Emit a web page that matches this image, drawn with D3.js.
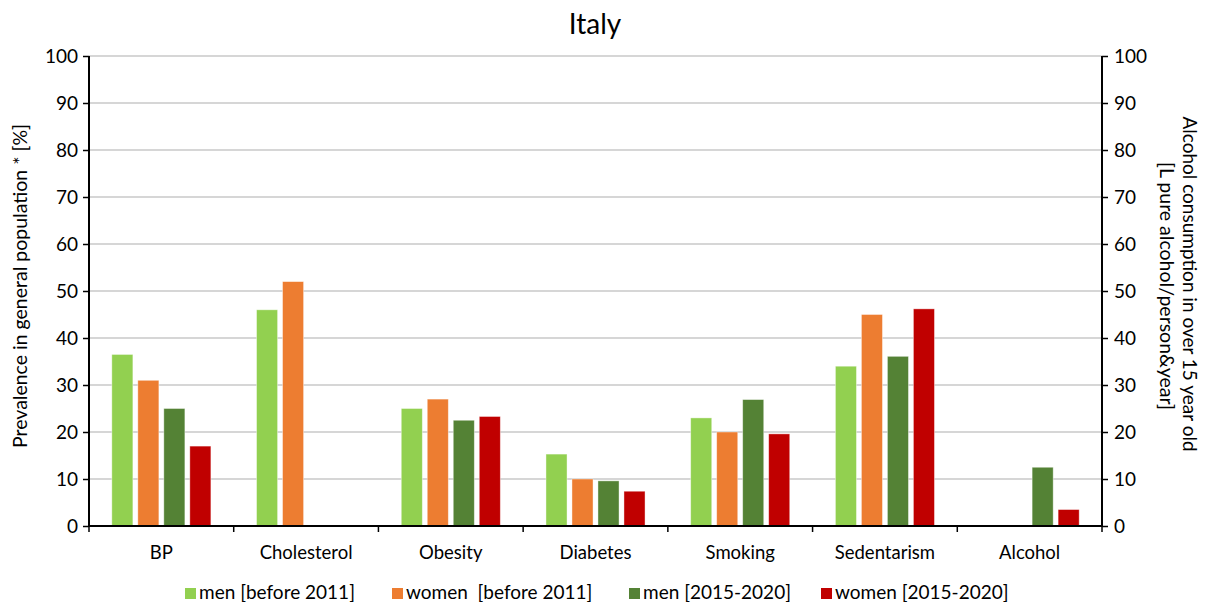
<!DOCTYPE html>
<html><head><meta charset="utf-8">
<script src="https://cdn.jsdelivr.net/npm/d3@7"></script>
<style>
body{margin:0;background:#fff;}
text{font-family:Lato,"Open Sans",sans-serif;fill:#000;}
</style></head>
<body><svg id="c" width="1206" height="602"></svg>
<script>
const categories = ["BP","Cholesterol","Obesity","Diabetes","Smoking","Sedentarism","Alcohol"];
const seriesNames = ["men [before 2011]","women  [before 2011]","men [2015-2020]","women [2015-2020]"];
const menBefore2011   = [36.5, 46, 25, 15.3, 23, 34, null];
const womenBefore2011 = [31, 52, 27, 10, 20, 45, null];
const men2015_2020    = [25, null, 22.5, 9.6, 26.9, 36.1, 12.5];
const women2015_2020  = [17, null, 23.3, 7.4, 19.6, 46.2, 3.5];
const yTicks = [0,10,20,30,40,50,60,70,80,90,100];
const colors = ["#92d050","#ed7d31","#548235","#c00000"];
const seriesValues = [menBefore2011, womenBefore2011, men2015_2020, women2015_2020];

const svg = d3.select("#c");
const L = 89, R = 1102, T = 56, B = 526;
const x0 = d3.scaleBand().domain(categories).range([L, R]).paddingInner(0).paddingOuter(0);
const groupW = 104;
const x1 = d3.scaleBand().domain(d3.range(4)).range([0, groupW]).paddingInner(0.19).paddingOuter(0.095);
const y = d3.scaleLinear().domain([0,100]).range([B, T]);

// gridlines
svg.append("g").selectAll("line").data(yTicks.filter(d=>d>0)).join("line")
  .attr("x1", L).attr("x2", R).attr("y1", d=>y(d)).attr("y2", d=>y(d))
  .attr("stroke", "#c8c8c8").attr("stroke-width", 1.5);

// bars
const g = svg.append("g");
categories.forEach((c, ci) => {
  const cx = x0(c) + (x0.bandwidth() - groupW) / 2;
  seriesValues.forEach((vals, si) => {
    const v = vals[ci];
    if (v == null) return;
    g.append("rect")
      .attr("x", cx + x1(si)).attr("width", x1.bandwidth())
      .attr("y", y(v)).attr("height", y(0) - y(v))
      .attr("fill", colors[si]).attr("stroke", "#ffffff").attr("stroke-opacity", 0.5).attr("stroke-width", 0.8);
  });
});

// left axis
const yl = svg.append("g").attr("transform", `translate(${L},0)`)
  .call(d3.axisLeft(y).tickValues(yTicks).tickSize(6).tickPadding(5));
// right axis
const yr = svg.append("g").attr("transform", `translate(${R},0)`)
  .call(d3.axisRight(y).tickValues(yTicks).tickSize(6).tickPadding(6));
[yl, yr].forEach(a => {
  a.select(".domain").attr("stroke", "#000").attr("stroke-width", 2);
  a.selectAll(".tick line").attr("stroke", "#000").attr("stroke-width", 1.5);
  a.selectAll(".tick text").attr("font-size", 19).attr("font-family", "Lato,sans-serif").attr("fill", "#333");
});
yl.select(".domain").attr("d", `M0,${B}V${T}`);
yr.select(".domain").attr("d", `M0,${B}V${T}`);

// bottom axis
const xb = svg.append("g").attr("transform", `translate(0,${B})`);
xb.append("line").attr("x1", L).attr("x2", R).attr("y1", 0).attr("y2", 0).attr("stroke", "#000").attr("stroke-width", 2);
const bounds = categories.map(c => x0(c)).concat([R]);
xb.selectAll("line.t").data(bounds).join("line").attr("class","t")
  .attr("x1", d=>d).attr("x2", d=>d).attr("y1", 0).attr("y2", 6).attr("stroke", "#000").attr("stroke-width", 1.5);
xb.selectAll("text").data(categories).join("text")
  .attr("x", d => x0(d) + x0.bandwidth()/2).attr("y", 33)
  .attr("text-anchor", "middle").attr("font-size", 18.5).attr("fill", "#333").text(d=>d);

// title
svg.append("text").attr("x", 595).attr("y", 34).attr("text-anchor", "middle").attr("font-size", 28).text("Italy");

// left axis title
svg.append("text").attr("transform", `translate(27,286) rotate(-90)`).attr("text-anchor", "middle")
  .attr("font-size", 19.5).text("Prevalence in general population * [%]");
// right axis titles
svg.append("text").attr("transform", `translate(1183,284) rotate(90)`).attr("text-anchor", "middle")
  .attr("font-size", 19).text("Alcohol consumption in over 15 year old");
svg.append("text").attr("transform", `translate(1160,286) rotate(90)`).attr("text-anchor", "middle")
  .attr("font-size", 19.5).text("[L pure alcohol/person&year]");

// legend
const legX = [185, 392, 629, 821];
const lg = svg.append("g");
seriesNames.forEach((n, i) => {
  lg.append("rect").attr("x", legX[i]).attr("y", 588).attr("width", 11).attr("height", 11).attr("fill", colors[i]);
  lg.append("text").attr("x", legX[i] + 14).attr("y", 599).attr("font-size", 19).attr("fill", "#333")
    .style("white-space", "pre").text(n);
});
</script></body></html>
